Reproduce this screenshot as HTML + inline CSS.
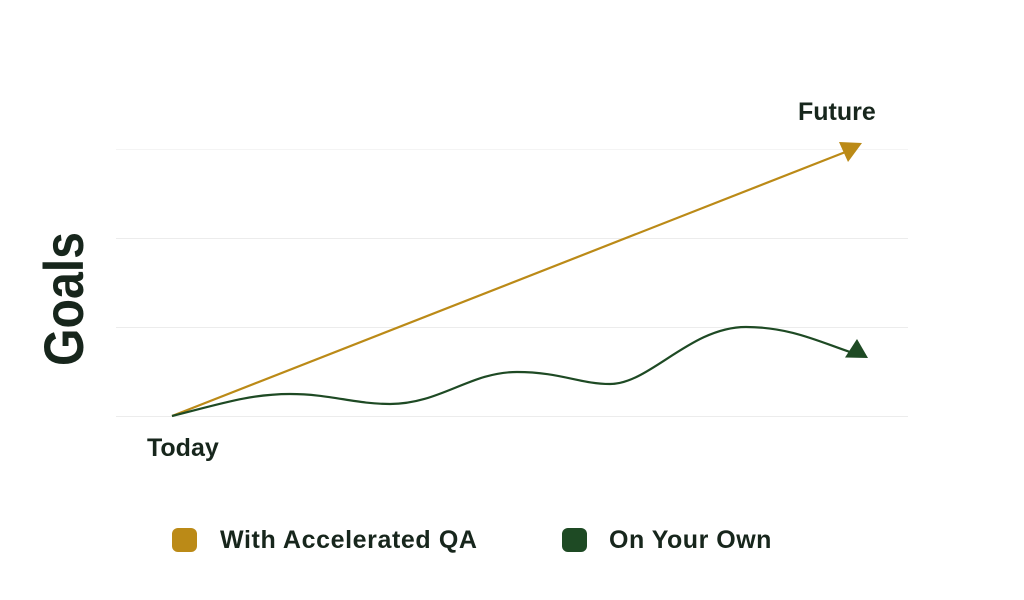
<!DOCTYPE html>
<html>
<head>
<meta charset="utf-8">
<style>
  html, body { margin:0; padding:0; background:#ffffff; }
  body { width:1024px; height:600px; overflow:hidden; position:relative; }
  svg { position:absolute; left:0; top:0; }
  .lbl { font-family:"Liberation Sans", sans-serif; font-weight:bold; fill:#17261c; }
</style>
</head>
<body>
<svg width="1024" height="600" viewBox="0 0 1024 600" xmlns="http://www.w3.org/2000/svg">
  <!-- gridlines -->
  <line x1="116" y1="149.5" x2="908" y2="149.5" stroke="#f4f4f4" stroke-width="1"/>
  <line x1="116" y1="238.5" x2="908" y2="238.5" stroke="#ececec" stroke-width="1"/>
  <line x1="116" y1="327.5" x2="908" y2="327.5" stroke="#ececec" stroke-width="1"/>
  <line x1="116" y1="416.5" x2="908" y2="416.5" stroke="#ececec" stroke-width="1"/>

  <!-- gold line -->
  <line x1="172" y1="416" x2="848" y2="151" stroke="#bb8a17" stroke-width="2.2"/>
  <polygon points="862,143 839,142 848,162" fill="#bb8a17"/>

  <!-- green curve -->
  <path d="M172,416 C220,404 250,394 290,394 C330,394 355,404 390,404 C440,404 470,372 517,372 C560,372 580,384 610,384 C650,384 690,327 746,327 C790,327 820,342 850,352"
        fill="none" stroke="#1e4a24" stroke-width="2.2"/>
  <polygon points="857,339 845,357.5 868,358" fill="#1e4a24"/>

  <!-- labels -->
  <text class="lbl" x="798" y="120" font-size="25">Future</text>
  <text class="lbl" x="147" y="456" font-size="25">Today</text>
  <text class="lbl" x="0" y="0" font-size="56" textLength="134" lengthAdjust="spacingAndGlyphs" transform="translate(83,366) rotate(-90)">Goals</text>

  <!-- legend -->
  <rect x="172" y="528" width="25" height="24" rx="6" ry="6" fill="#bb8a17"/>
  <text class="lbl" x="220" y="548" font-size="25" letter-spacing="0.6">With Accelerated QA</text>
  <rect x="562" y="528" width="25" height="24" rx="6" ry="6" fill="#1e4a24"/>
  <text class="lbl" x="609" y="548" font-size="25" letter-spacing="0.5">On Your Own</text>
</svg>
</body>
</html>
